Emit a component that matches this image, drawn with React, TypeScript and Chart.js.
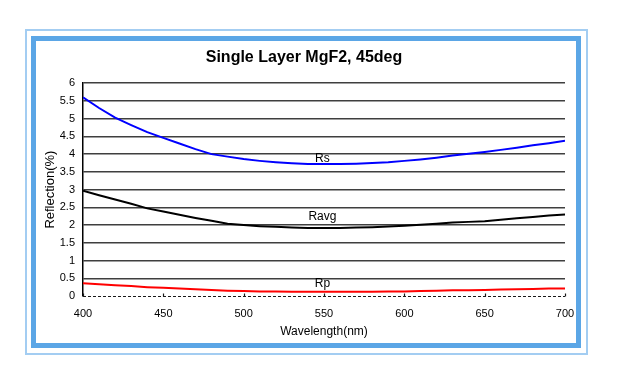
import React, { useEffect, useRef } from 'react';
import { Chart, registerables } from 'chart.js';

Chart.register(...registerables);

const wavelengths = [400, 410, 420, 430, 440, 450, 460, 470, 480, 490, 500, 510, 520, 530, 540, 550, 560, 570, 580, 590, 600, 610, 620, 630, 640, 650, 660, 670, 680, 690, 700];
const rsValues = [5.6, 5.3, 5.03, 4.82, 4.62, 4.46, 4.3, 4.14, 4.0, 3.93, 3.86, 3.81, 3.77, 3.74, 3.72, 3.72, 3.72, 3.73, 3.75, 3.77, 3.81, 3.85, 3.9, 3.96, 4.01, 4.06, 4.12, 4.18, 4.25, 4.31, 4.38];
const ravgValues = [2.97, 2.84, 2.72, 2.6, 2.47, 2.38, 2.29, 2.2, 2.12, 2.04, 2.0, 1.97, 1.95, 1.93, 1.92, 1.92, 1.92, 1.93, 1.94, 1.96, 1.98, 2.01, 2.04, 2.07, 2.09, 2.11, 2.15, 2.19, 2.23, 2.27, 2.3];
const rpValues = [0.36, 0.33, 0.3, 0.28, 0.25, 0.23, 0.21, 0.19, 0.17, 0.15, 0.14, 0.13, 0.13, 0.12, 0.12, 0.12, 0.12, 0.12, 0.12, 0.13, 0.13, 0.14, 0.15, 0.16, 0.16, 0.17, 0.18, 0.19, 0.2, 0.21, 0.21];

const seriesNames = ['Rs', 'Ravg', 'Rp'];
const seriesColors = ['#0000ff', '#000000', '#ff0000'];
const labelWavelengths = [549, 549, 549];
const labelValues = [3.86, 2.23, 0.34];
const xTickValues = [400, 450, 500, 550, 600, 650, 700];

const titleText = 'Single Layer MgF2, 45deg';
const xTitle = 'Wavelength(nm)';
const yTitle = 'Reflection(%)';

const FONT = "'Liberation Sans', Arial, Helvetica, sans-serif";

const decorPlugin = {
  id: 'decor',
  beforeDatasetsDraw(chart: any) {
    const { ctx, chartArea, scales } = chart;
    const x = scales.x;
    const y = scales.y;
    const y0 = Math.round(y.getPixelForValue(0)) + 0.5;
    ctx.save();
    ctx.strokeStyle = '#1a1a1a';
    ctx.lineWidth = 1.2;
    ctx.setLineDash([3, 2]);
    ctx.beginPath();
    ctx.moveTo(chartArea.left, y0);
    ctx.lineTo(chartArea.right, y0);
    ctx.stroke();
    ctx.setLineDash([]);
    xTickValues.forEach((v) => {
      const px = Math.round(x.getPixelForValue(v)) + 0.5;
      ctx.beginPath();
      ctx.moveTo(px, y0);
      ctx.lineTo(px, y0 - 3);
      ctx.stroke();
    });
    ctx.restore();
  },
  afterDatasetsDraw(chart: any) {
    const { ctx, scales } = chart;
    const x = scales.x;
    const y = scales.y;
    ctx.save();
    ctx.fillStyle = '#000';
    ctx.font = `12px ${FONT}`;
    ctx.textAlign = 'center';
    ctx.textBaseline = 'middle';
    seriesNames.forEach((name, i) => {
      ctx.fillText(name, x.getPixelForValue(labelWavelengths[i]), y.getPixelForValue(labelValues[i]));
    });
    ctx.restore();
  },
};

export default function App() {
  const canvasRef = useRef<HTMLCanvasElement | null>(null);

  useEffect(() => {
    const canvas = canvasRef.current;
    if (!canvas) return;
    const seriesData = [rsValues, ravgValues, rpValues];
    const chart = new Chart(canvas, {
      type: 'line',
      data: {
        datasets: seriesNames.map((name, i) => ({
          label: name,
          data: wavelengths.map((w, j) => ({ x: w, y: seriesData[i][j] })),
          borderColor: seriesColors[i],
          backgroundColor: seriesColors[i],
          borderWidth: 2,
          pointRadius: 0,
          tension: 0,
          fill: false,
        })),
      },
      options: {
        animation: false,
        responsive: false,
        events: [],
        layout: { padding: { left: 43, right: 53, top: 0, bottom: 38 } },
        plugins: {
          legend: { display: false },
          tooltip: { enabled: false },
          title: {
            display: true,
            text: titleText,
            color: '#000',
            font: { family: FONT, size: 16, weight: 'bold' },
            padding: { top: 48, bottom: 16 },
          },
        },
        scales: {
          x: {
            type: 'linear',
            min: 400,
            max: 700,
            afterFit: (scale: any) => {
              scale.height = 50;
            },
            ticks: {
              stepSize: 50,
              color: '#000',
              font: { family: FONT, size: 11 },
              padding: 11,
              maxRotation: 0,
            },
            grid: { display: false, drawTicks: false },
            border: { display: false },
            title: {
              display: true,
              text: xTitle,
              color: '#000',
              font: { family: FONT, size: 12 },
              padding: { top: 0, bottom: 7 },
            },
          },
          y: {
            type: 'linear',
            min: 0,
            max: 6,
            afterFit: (scale: any) => {
              scale.width = 40;
            },
            ticks: {
              stepSize: 0.5,
              color: '#000',
              font: { family: FONT, size: 11 },
              padding: 8,
              callback: (v: any) => String(Number(v)),
            },
            grid: {
              drawTicks: false,
              lineWidth: 1.5,
              color: (c: any) => (c.tick && c.tick.value === 0 ? 'rgba(0,0,0,0)' : '#3f3f3f'),
            },
            border: { display: true, color: '#000', width: 1.5 },
            title: {
              display: true,
              text: yTitle,
              color: '#000',
              font: { family: FONT, size: 13 },
              padding: { top: 0, bottom: 0 },
            },
          },
        },
      },
      plugins: [decorPlugin],
    });
    return () => chart.destroy();
  }, []);

  return (
    <div style={{ position: 'fixed', left: 0, top: 0, width: 618, height: 384, background: '#fff' }}>
      <canvas ref={canvasRef} width={618} height={384} style={{ position: 'absolute', left: 0, top: 0, width: 618, height: 384 }} />
      <div
        style={{
          position: 'absolute',
          left: 25,
          top: 29,
          width: 563,
          height: 326,
          border: '2px solid #a3cdf2',
          boxSizing: 'border-box',
          pointerEvents: 'none',
        }}
      />
      <div
        style={{
          position: 'absolute',
          left: 31,
          top: 36,
          width: 550,
          height: 312,
          border: '5px solid #5ba6e6',
          boxSizing: 'border-box',
          pointerEvents: 'none',
        }}
      />
    </div>
  );
}
